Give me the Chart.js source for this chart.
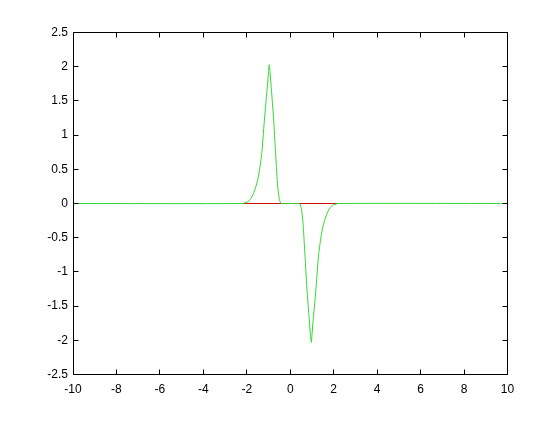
<!DOCTYPE html>
<html lang="en">
<head>
    <meta charset="UTF-8">
    <script src="https://cdn.jsdelivr.net/npm/chart.js"></script>
    <style>
        body { margin: 0; padding: 0; background: #ffffff; }
        .chart-container { position: relative; width: 560px; height: 421px; }
    </style>
</head>
<body>
    <div class="chart-container">
        <canvas id="myChart"></canvas>
    </div>

    <script>
        // --- DATA ---
        const greenX = [-10, -2.2, -2.0, -1.9, -1.8, -1.7, -1.6, -1.5, -1.4, -1.3, -1.2, -1.1, -1.05, -1.0, -0.97,
                        -0.93, -0.88, -0.82, -0.77, -0.72, -0.68, -0.63, -0.59, -0.54, -0.5, -0.46, -0.43,
                        0.43, 0.46, 0.5, 0.54, 0.59, 0.63, 0.68, 0.72, 0.77, 0.82, 0.88, 0.93,
                        0.97, 1.0, 1.05, 1.1, 1.2, 1.3, 1.4, 1.5, 1.6, 1.7, 1.8, 1.9, 2.0, 2.2, 10];
        const greenY = [0, 0, 0.02, 0.04, 0.08, 0.14, 0.23, 0.34, 0.52, 0.77, 1.18, 1.55, 1.72, 1.92, 2.03,
                        1.92, 1.72, 1.47, 1.26, 0.99, 0.77, 0.5, 0.29, 0.14, 0.06, 0.02, 0,
                        0, -0.02, -0.06, -0.14, -0.29, -0.5, -0.77, -0.99, -1.26, -1.47, -1.72, -1.92,
                        -2.03, -1.92, -1.72, -1.55, -1.18, -0.77, -0.52, -0.34, -0.23, -0.14, -0.08, -0.04, -0.02, 0, 0];
        const redX = [-2.2, 2.2];
        const redY = [0, 0];

        const xTicks = [-10, -8, -6, -4, -2, 0, 2, 4, 6, 8, 10];
        const yTicks = [-2.5, -2, -1.5, -1, -0.5, 0, 0.5, 1, 1.5, 2, 2.5];

        const toPoints = (xs, ys) => xs.map((x, i) => ({ x: x, y: ys[i] }));

        // MATLAB-style box with inward ticks on all four sides
        const boxTicks = {
            id: 'boxTicks',
            afterDraw(chart) {
                const { ctx, chartArea: a, scales } = chart;
                const len = 5;
                const top = Math.floor(a.top) + 0.5, bottom = Math.floor(a.bottom) + 0.5;
                const left = Math.floor(a.left) + 0.5, right = Math.floor(a.right) + 0.5;
                ctx.save();
                ctx.strokeStyle = '#000000';
                ctx.lineWidth = 1;
                ctx.beginPath();
                xTicks.forEach(v => {
                    const px = Math.floor(scales.x.getPixelForValue(v)) + 0.5;
                    ctx.moveTo(px, bottom); ctx.lineTo(px, bottom - len);
                    ctx.moveTo(px, top); ctx.lineTo(px, top + len);
                });
                yTicks.forEach(v => {
                    const py = Math.floor(scales.y.getPixelForValue(v)) + 0.5;
                    ctx.moveTo(left, py); ctx.lineTo(left + len, py);
                    ctx.moveTo(right, py); ctx.lineTo(right - len, py);
                });
                ctx.rect(left, top, right - left, bottom - top);
                ctx.stroke();
                ctx.restore();
            }
        };

        const fmt = v => String(+v.toFixed(2));

        new Chart(document.getElementById('myChart').getContext('2d'), {
            type: 'line',
            data: {
                datasets: [
                    {
                        data: toPoints(greenX, greenY),
                        borderColor: '#30d830',
                        borderWidth: 1,
                        pointRadius: 0,
                        tension: 0.2,
                        order: 0
                    },
                    {
                        data: toPoints(redX, redY),
                        borderColor: '#cc1111',
                        borderWidth: 1,
                        pointRadius: 0,
                        order: 1
                    }
                ]
            },
            options: {
                responsive: true,
                maintainAspectRatio: false,
                animation: false,
                layout: { padding: { left: 0, right: 52.5, top: 32.5, bottom: 0 } },
                scales: {
                    x: {
                        type: 'linear',
                        min: -10,
                        max: 10,
                        afterBuildTicks: s => { s.ticks = xTicks.map(v => ({ value: v })); },
                        afterFit: s => { s.height = 46.5; },
                        grid: { display: false, drawTicks: false },
                        border: { display: false },
                        ticks: {
                            color: '#000000',
                            padding: 8,
                            maxRotation: 0,
                            autoSkip: false,
                            font: { family: 'Liberation Sans', size: 12 },
                            callback: fmt
                        }
                    },
                    y: {
                        type: 'linear',
                        min: -2.5,
                        max: 2.5,
                        afterBuildTicks: s => { s.ticks = yTicks.map(v => ({ value: v })); },
                        afterFit: s => { s.width = 73; },
                        grid: { display: false, drawTicks: false },
                        border: { display: false },
                        ticks: {
                            color: '#000000',
                            padding: 5,
                            autoSkip: false,
                            font: { family: 'Liberation Sans', size: 12 },
                            callback: fmt
                        }
                    }
                },
                plugins: {
                    legend: { display: false },
                    tooltip: { enabled: false }
                }
            },
            plugins: [boxTicks]
        });
    </script>
</body>
</html>
